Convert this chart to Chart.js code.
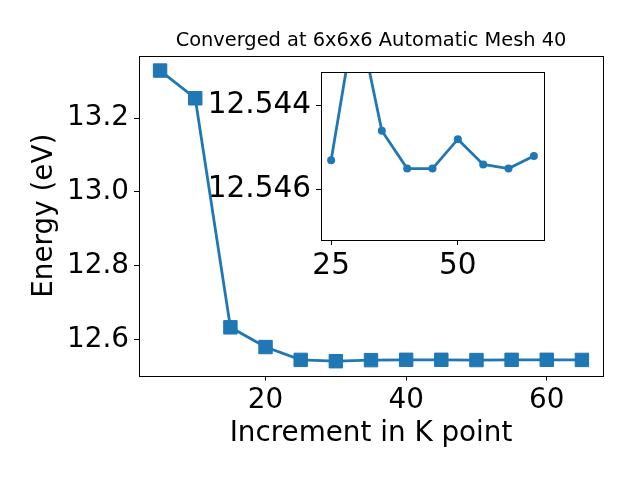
<!DOCTYPE html>
<html>
<head>
<meta charset="utf-8">
<script src="https://cdn.jsdelivr.net/npm/chart.js@4"></script>
<style>
  body { margin: 0; background: #fff; }
  #wrap { position: relative; width: 640px; height: 480px; }
  #main { position: absolute; left: 0; top: 0; }
  #inset { position: absolute; left: 195px; top: 62px; }
</style>
</head>
<body>
<div id="wrap">
  <canvas id="main" width="640" height="480"></canvas>
  <canvas id="inset" width="360" height="230"></canvas>
</div>
<script>
// данные с картинки
const kPoints = [5, 10, 15, 20, 25, 30, 35, 40, 45, 50, 55, 60, 65];
const energy = [13.3285, 13.2535, 12.6334, 12.580, 12.5453, 12.5417, 12.5446,
                12.5455, 12.5455, 12.5448, 12.5454, 12.5455, 12.5452];
const mainXTicks = [20, 40, 60];
const mainYTicks = [12.6, 12.8, 13.0, 13.2];
const insetStart = 25;               // вставка начинается с 25
const insetXTicks = [25, 50];
const insetYTicks = [12.544, 12.546];

const blue = '#1f77b4';
const font = 'DejaVu Sans';
Chart.defaults.color = '#000';
Chart.defaults.font.family = font;

// рамка вокруг области графика
const frame = {
    id: 'frame',
    beforeDraw(chart, args, opts) {
        const a = chart.chartArea;
        const ctx = chart.ctx;
        if (opts.fill) {
            ctx.save();
            ctx.fillStyle = opts.fill;
            ctx.fillRect(a.left, a.top, a.right - a.left, a.bottom - a.top);
            ctx.restore();
        }
    },
    afterDraw(chart) {
        const a = chart.chartArea;
        const ctx = chart.ctx;
        ctx.save();
        ctx.strokeStyle = '#000';
        ctx.lineWidth = 1;
        ctx.strokeRect(Math.round(a.left) + 0.5, Math.round(a.top) + 0.5,
                       Math.round(a.right - a.left), Math.round(a.bottom - a.top));
        ctx.restore();
    }
};

function setTicks(list) {
    return scale => { scale.ticks = list.map(v => ({value: v})); };
}

// фиксированный размер оси, без лишних отступов под подписи
function fixSize(prop, size) {
    return s => {
        s[prop] = size;
        s.paddingTop = s.paddingBottom = s.paddingLeft = s.paddingRight = 0;
    };
}

function axis(opts) {
    return Object.assign({
        type: 'linear',
        border: {display: false},
        grid: {drawOnChartArea: false, tickLength: 5, color: '#000', tickWidth: 1},
    }, opts);
}

const pts = kPoints.map((x, i) => ({x: x, y: energy[i]}));

new Chart(document.getElementById('main'), {
    type: 'line',
    data: {
        datasets: [{
            data: pts,
            borderColor: blue,
            backgroundColor: blue,
            borderWidth: 2.8,
            pointStyle: 'rect',
            pointRadius: 9.5,
            pointBorderWidth: 1,
            tension: 0
        }]
    },
    plugins: [frame],
    options: {
        responsive: false,
        animation: false,
        devicePixelRatio: 1,
        layout: {padding: {left: 0, right: 37, top: 0, bottom: 0}},
        plugins: {
            legend: {display: false},
            tooltip: {enabled: false},
            title: {
                display: true,
                text: 'Converged at 6x6x6 Automatic Mesh 40',
                font: {size: 19.4, weight: 'normal', family: font},
                color: '#000',
                padding: {top: 29.6, bottom: 3.1},
                fullSize: false
            },
            frame: {}
        },
        scales: {
            x: axis({
                min: 2, max: 68,
                afterBuildTicks: setTicks(mainXTicks),
                afterFit: fixSize('height', 104.5),
                ticks: {font: {size: 27.8}, padding: 4, maxRotation: 0},
                title: {display: true, text: 'Increment in K point',
                        font: {size: 27.8}, padding: {top: 0, bottom: 29.5}}
            }),
            y: axis({
                min: 12.503, max: 13.368,
                afterBuildTicks: setTicks(mainYTicks),
                afterFit: fixSize('width', 139),
                ticks: {font: {size: 27.8}, padding: 5, callback: v => v.toFixed(1)},
                title: {display: true, text: 'Energy (eV)',
                        font: {size: 27.8}, padding: {top: 28.5, bottom: 0}}
            })
        }
    }
});

new Chart(document.getElementById('inset'), {
    type: 'line',
    data: {
        datasets: [{
            data: pts.filter(p => p.x >= insetStart),
            borderColor: blue,
            backgroundColor: blue,
            borderWidth: 2.8,
            pointRadius: 4,
            pointBorderWidth: 0,
            tension: 0
        }]
    },
    plugins: [frame],
    options: {
        responsive: false,
        animation: false,
        devicePixelRatio: 1,
        layout: {padding: {left: 0, right: 11, top: 10, bottom: 0}},
        plugins: {
            legend: {display: false},
            tooltip: {enabled: false},
            frame: {fill: '#fff'}
        },
        scales: {
            x: axis({
                min: 23, max: 67,
                afterBuildTicks: setTicks(insetXTicks),
                afterFit: fixSize('height', 52),
                ticks: {font: {size: 29.5}, padding: 4, maxRotation: 0}
            }),
            y: axis({
                min: 12.5432, max: 12.5472,
                reverse: true,
                afterBuildTicks: setTicks(insetYTicks),
                afterFit: fixSize('width', 126),
                ticks: {font: {size: 29.5}, padding: 5, callback: v => v.toFixed(3)}
            })
        }
    }
});
</script>
</body>
</html>
